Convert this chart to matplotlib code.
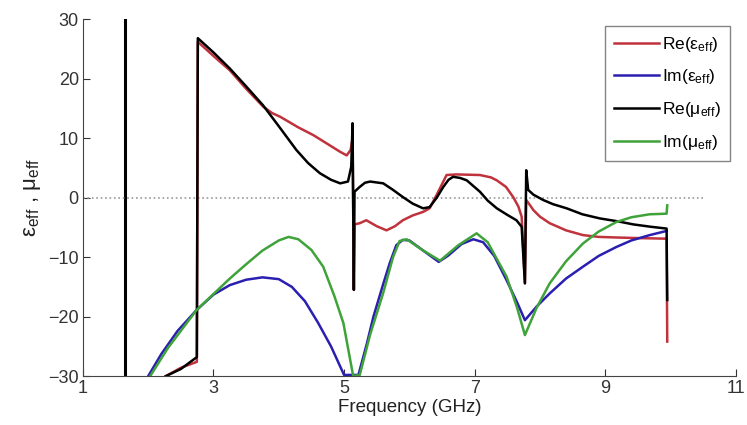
import matplotlib
matplotlib.use("Agg")
import matplotlib.pyplot as plt

plt.rcParams["font.family"] = ["Liberation Sans", "DejaVu Sans"]
plt.rcParams["mathtext.default"] = "regular"

# vertical resonance line
res_x = [1.64, 1.64]
res_y = [-30, 30]

# Re(eps_eff)
re_eps_x = [2.27, 2.5, 2.745, 2.76, 3.0, 3.25, 3.5, 3.76, 3.9, 4.02, 4.3, 4.53, 4.75, 4.94, 5.04,
            5.10, 5.13, 5.15, 5.16, 5.24, 5.34, 5.5, 5.65, 5.78, 5.9, 6.05, 6.21, 6.31, 6.42, 6.57,
            6.72, 7.08, 7.25, 7.34, 7.48, 7.59, 7.67, 7.72, 7.77, 7.79, 7.85, 7.9, 8.0, 8.15, 8.4,
            8.66, 8.9, 9.17, 9.5, 9.94, 9.95]
re_eps_y = [-30, -28.6, -27.6, 26.2, 23.8, 21.4, 18.3, 15.3, 14.2, 13.6, 11.8, 10.5, 9.0, 7.7, 7.1,
            8.0, 10.0, -15.5, -4.5, -4.3, -3.8, -4.8, -5.5, -4.8, -3.8, -3.0, -2.4, -1.8, 0.5, 3.8,
            3.9, 3.8, 3.4, 2.9, 1.8, 0.1, -1.5, -3.2, -14.4, -0.4, -1.3, -2.1, -3.2, -4.3, -5.5,
            -6.3, -6.6, -6.7, -6.8, -6.9, -24.2]

# Im(eps_eff)
im_eps_x = [2.0, 2.2, 2.45, 2.74, 3.0, 3.25, 3.5, 3.75, 4.0, 4.2, 4.4, 4.6, 4.8, 5.0, 5.22, 5.35,
            5.45, 5.6, 5.7, 5.8, 5.9, 6.0, 6.2, 6.45, 6.6, 6.8, 6.98, 7.13, 7.3, 7.49, 7.65, 7.77,
            7.95, 8.15, 8.4, 8.66, 8.9, 9.17, 9.4, 9.68, 9.94]
im_eps_y = [-30, -26.3, -22.4, -18.9, -16.3, -14.7, -13.8, -13.4, -13.7, -15.0, -17.4, -21.0, -25.0,
            -29.8, -29.8, -24.5, -20.0, -14.5, -11.0, -8.0, -7.1, -7.2, -8.8, -10.8, -9.7, -7.8,
            -7.0, -7.5, -9.8, -13.9, -17.6, -20.6, -18.3, -16.1, -13.6, -11.6, -9.8, -8.3, -7.2,
            -6.3, -5.6]

# Re(mu_eff)
re_mu_x = [2.27, 2.5, 2.745, 2.76, 3.0, 3.25, 3.5, 3.76, 4.0, 4.27, 4.45, 4.63, 4.8, 4.94, 5.06,
           5.11, 5.13, 5.15, 5.16, 5.24, 5.32, 5.40, 5.6, 5.75, 5.9, 6.05, 6.21, 6.31, 6.42, 6.52,
           6.6, 6.67, 6.78, 6.88, 7.08, 7.2, 7.34, 7.5, 7.64, 7.72, 7.77, 7.79, 7.82, 7.9, 8.05,
           8.2, 8.41, 8.65, 8.92, 9.2, 9.43, 9.7, 9.94, 9.95]
re_mu_y = [-30, -28.8, -26.8, 26.8, 24.4, 21.7, 18.7, 15.5, 12.0, 8.0, 5.8, 4.1, 3.0, 2.4, 2.7,
           5.2, 12.5, -15.5, 1.0, 1.8, 2.5, 2.7, 2.4, 1.3, 0.1, -1.0, -1.8, -1.6, 0.0, 1.8,
           3.0, 3.5, 3.3, 2.9, 1.0, -0.5, -1.8, -2.9, -3.8, -4.9, -14.4, 4.6, 1.3, 0.5, -0.4,
           -1.1, -1.8, -2.8, -3.5, -4.0, -4.5, -4.9, -5.2, -17.2]

# Im(mu_eff)
im_mu_x = [2.03, 2.3, 2.74, 3.0, 3.25, 3.5, 3.75, 4.0, 4.15, 4.3, 4.5, 4.68, 4.85, 4.99, 5.14,
           5.24, 5.4, 5.6, 5.75, 5.85, 5.96, 6.2, 6.47, 6.75, 7.03, 7.2, 7.35, 7.49, 7.65, 7.77,
           7.95, 8.15, 8.4, 8.66, 8.9, 9.17, 9.4, 9.68, 9.94, 9.95]
im_mu_y = [-30, -25.3, -18.9, -16.2, -13.6, -11.2, -8.9, -7.2, -6.6, -7.0, -8.8, -11.6, -16.5,
           -21.1, -30, -29.8, -23.0, -16.0, -10.0, -7.3, -7.0, -8.8, -10.6, -8.0, -6.0, -7.5,
           -10.5, -13.3, -18.5, -23.1, -18.5, -14.4, -10.7, -7.7, -5.7, -4.1, -3.3, -2.8, -2.7, -1.3]

x_ticks = [1, 3, 5, 7, 9, 11]
y_ticks = [-30, -20, -10, 0, 10, 20, 30]
zero_line_end = 10.5

fig = plt.figure(figsize=(7.47, 4.25), dpi=100)
ax = fig.add_axes([0.111, 0.115, 0.874, 0.840])

ax.plot(res_x, res_y, color="black", linewidth=2.2)
ax.plot([x_ticks[0], zero_line_end], [0, 0], color="#999999", linestyle=":", linewidth=1.2)
ax.plot(re_eps_x, re_eps_y, color="#c0323c", linewidth=1.8, label=r"Re($\varepsilon_{eff}$)")
ax.plot(im_eps_x, im_eps_y, color="#2a1fb0", linewidth=1.8, label=r"Im($\varepsilon_{eff}$)")
ax.plot(re_mu_x, re_mu_y, color="black", linewidth=1.8, label=r"Re($\mu_{eff}$)")
ax.plot(im_mu_x, im_mu_y, color="#3fa33a", linewidth=1.8, label=r"Im($\mu_{eff}$)")

ax.set_xlim(1, 11)
ax.set_ylim(-30, 30)
ax.set_xticks(x_ticks)
ax.set_yticks(y_ticks)
ax.tick_params(direction="in", labelsize=13, colors="#333333", length=5, pad=3)
for side in ("top", "right"):
    ax.spines[side].set_visible(False)
for side in ("left", "bottom"):
    ax.spines[side].set_color("#444444")

ax.set_xlabel("Frequency (GHz)", fontsize=13.5, labelpad=1, color="#222222")
ax.set_ylabel(r"$\varepsilon_{eff}$ , $\mu_{eff}$", fontsize=16, labelpad=4, color="#222222")

leg = ax.legend(loc="upper right", bbox_to_anchor=(0.977, 0.939), bbox_transform=fig.transFigure,
                fontsize=12.5, frameon=True, fancybox=False, edgecolor="#666666", borderaxespad=0,
                handlelength=2.6, handletextpad=0.2, labelspacing=0.8, borderpad=0.5)
leg.get_frame().set_linewidth(1.0)

fig.savefig("out.png", dpi=100)
